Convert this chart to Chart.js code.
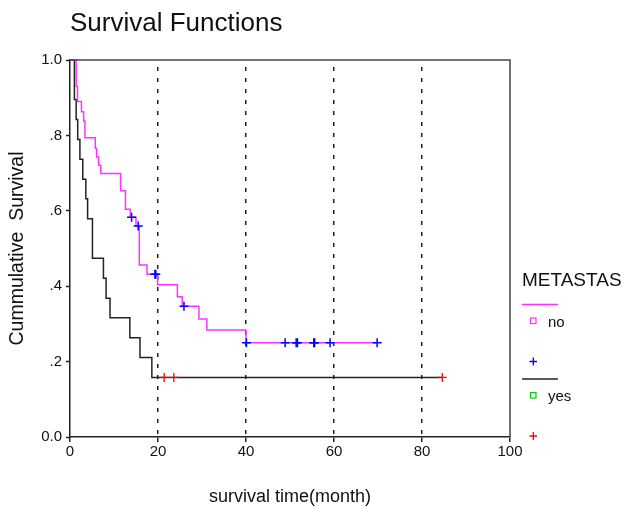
<!DOCTYPE html>
<html>
<head>
<meta charset="utf-8">
<script src="https://cdn.jsdelivr.net/npm/chart.js@4/dist/chart.umd.min.js"></script>
<style>
  html, body { margin: 0; padding: 0; background: #fff; }
</style>
</head>
<body>
<canvas id="survChart" width="624" height="510"></canvas>
<script>
// Kaplan-Meier steps: survival becomes S at time t
const noTimes = [0, 1.4, 1.7, 2.6, 3.1, 3.4, 5.75, 6.05, 6.5, 7.0, 11.5, 12.6, 13.7, 15.0, 15.75, 17.5, 19.9, 24.4, 25.5, 29.3, 31.1, 40.0, 69.8];
const noSurv = [1, 0.93, 0.89, 0.863, 0.838, 0.794, 0.766, 0.743, 0.721, 0.699, 0.653, 0.604, 0.583, 0.56, 0.456, 0.432, 0.404, 0.372, 0.347, 0.313, 0.284, 0.25, 0.25];
const noCensored = [14.0, 15.5, 19.3, 19.5, 25.9, 40.1, 48.9, 51.4, 51.7, 55.4, 55.6, 59.1, 69.8];

const yesTimes = [0, 1.0, 1.4, 1.75, 2.25, 2.9, 3.6, 4.0, 5.1, 7.6, 8.2, 9.1, 13.6, 15.9, 18.6, 84.6];
const yesSurv = [1, 0.895, 0.842, 0.789, 0.737, 0.684, 0.632, 0.579, 0.474, 0.421, 0.368, 0.316, 0.263, 0.211, 0.158, 0.158];
const yesCensored = [21.4, 23.6, 84.6];

const xTicks = [0, 20, 40, 60, 80, 100];
const yTickLabels = ["0.0", ".2", ".4", ".6", ".8", "1.0"];
const groups = ["no", "yes"];
const legendTitle = "METASTAS";

const FONT = "'Liberation Sans', Arial, sans-serif";
Chart.defaults.font.family = FONT;
Chart.defaults.color = "#111";

function toPoints(xs, ys) {
    return xs.map((x, i) => ({ x: x, y: ys[i] }));
}

// censored marks sit on the step curve at their time
function survAt(times, surv, t) {
    let s = surv[0];
    for (let i = 0; i < times.length; i++) {
        if (times[i] <= t) s = surv[i];
    }
    return s;
}

function censorPoints(cens, times, surv) {
    return cens.map(t => ({ x: t, y: survAt(times, surv, t) }));
}

const framePlugin = {
    id: "frame",
    afterDraw(chart) {
        const { ctx, chartArea: a } = chart;
        ctx.save();
        ctx.strokeStyle = "#444";
        ctx.lineWidth = 1.5;
        ctx.beginPath();
        ctx.moveTo(a.left, a.top);
        ctx.lineTo(a.right, a.top);
        ctx.lineTo(a.right, a.bottom);
        ctx.stroke();
        ctx.restore();
    }
};

const legendPlugin = {
    id: "kmLegend",
    afterDraw(chart) {
        const { ctx, chartArea: a } = chart;
        const x0 = a.right + 12;
        ctx.save();
        ctx.fillStyle = "#111";
        ctx.textBaseline = "middle";
        ctx.textAlign = "left";
        ctx.font = "19px " + FONT;
        ctx.fillText(legendTitle, x0, 281);

        const rows = [
            { top: 304.5, line: "#ff33ff", box: "#ff33ff", plus: "#0000ff", label: groups[0] },
            { top: 379, line: "#222", box: "#00cc00", plus: "#ff0000", label: groups[1] }
        ];
        rows.forEach(r => {
            ctx.strokeStyle = r.line;
            ctx.lineWidth = 1.5;
            ctx.beginPath();
            ctx.moveTo(x0, r.top);
            ctx.lineTo(x0 + 36, r.top);
            ctx.stroke();

            ctx.strokeStyle = r.box;
            ctx.lineWidth = 1.2;
            ctx.strokeRect(x0 + 8.5, r.top + 13.5, 5.5, 5.5);
            ctx.font = "15px " + FONT;
            ctx.fillStyle = "#111";
            ctx.fillText(r.label, x0 + 26, r.top + 18);

            ctx.strokeStyle = r.plus;
            ctx.lineWidth = 1.3;
            ctx.beginPath();
            ctx.moveTo(x0 + 7.5, r.top + 57);
            ctx.lineTo(x0 + 15, r.top + 57);
            ctx.moveTo(x0 + 11.3, r.top + 53);
            ctx.lineTo(x0 + 11.3, r.top + 61);
            ctx.stroke();
        });
        ctx.restore();
    }
};

new Chart(document.getElementById("survChart"), {
    type: "scatter",
    data: {
        datasets: [
            {
                label: "no censored",
                data: censorPoints(noCensored, noTimes, noSurv),
                pointStyle: "cross",
                pointRadius: 4.5,
                borderColor: "#0000ff",
                backgroundColor: "#0000ff",
                pointBorderWidth: 1.5,
                showLine: false,
                clip: 8
            },
            {
                label: "yes censored",
                data: censorPoints(yesCensored, yesTimes, yesSurv),
                pointStyle: "cross",
                pointRadius: 4.5,
                borderColor: "#ff0000",
                backgroundColor: "#ff0000",
                pointBorderWidth: 1.3,
                showLine: false,
                clip: 8
            },
            {
                label: "no",
                data: toPoints(noTimes, noSurv),
                showLine: true,
                stepped: "before",
                borderColor: "#ff33ff",
                borderWidth: 1.5,
                pointRadius: 0,
                clip: 4
            },
            {
                label: "yes",
                data: toPoints(yesTimes, yesSurv),
                showLine: true,
                stepped: "before",
                borderColor: "#222",
                borderWidth: 1.5,
                pointRadius: 0,
                clip: 4
            }
        ]
    },
    options: {
        responsive: false,
        animation: false,
        devicePixelRatio: 1,
        layout: { padding: { left: 0, right: 114, top: 0, bottom: 0 } },
        plugins: {
            legend: { display: false },
            tooltip: { enabled: false },
            title: {
                display: true,
                text: "Survival Functions",
                align: "start",
                fullSize: false,
                color: "#111",
                font: { size: 26, weight: "normal" },
                padding: { top: 8, bottom: 20.8 }
            }
        },
        scales: {
            x: {
                type: "linear",
                min: 0,
                max: 100,
                afterBuildTicks(scale) {
                    scale.ticks = xTicks.map(v => ({ value: v }));
                },
                afterFit(scale) { scale.height = 73; },
                ticks: { font: { size: 15 }, color: "#111", padding: 1, maxRotation: 0 },
                grid: {
                    color: c => (c.tick && (c.tick.value === 0 || c.tick.value === 100)) ? "rgba(0,0,0,0)" : "#222",
                    lineWidth: 1.5,
                    tickColor: "#222",
                    tickLength: 5,
                    tickWidth: 1.5
                },
                border: { display: true, color: "#222", width: 1.5, dash: [4, 7], dashOffset: 4 },
                title: {
                    display: true,
                    text: "survival time(month)",
                    color: "#111",
                    font: { size: 18 },
                    padding: { top: 0, bottom: 2 }
                }
            },
            y: {
                type: "linear",
                min: 0,
                max: 1,
                afterBuildTicks(scale) {
                    scale.ticks = yTickLabels.map((l, i) => ({ value: i * 0.2 }));
                },
                afterFit(scale) { scale.width = 70; },
                ticks: {
                    font: { size: 15 },
                    color: "#111",
                    padding: 4,
                    callback: (v, i) => yTickLabels[i]
                },
                grid: {
                    drawOnChartArea: false,
                    tickColor: "#222",
                    tickLength: 4,
                    tickWidth: 1.5
                },
                border: { display: true, color: "#222", width: 1.5 },
                title: {
                    display: true,
                    text: "Cummulative  Survival",
                    color: "#111",
                    font: { size: 19.5 },
                    padding: { top: 6, bottom: 0 }
                }
            }
        }
    },
    plugins: [framePlugin, legendPlugin]
});
</script>
</body>
</html>
